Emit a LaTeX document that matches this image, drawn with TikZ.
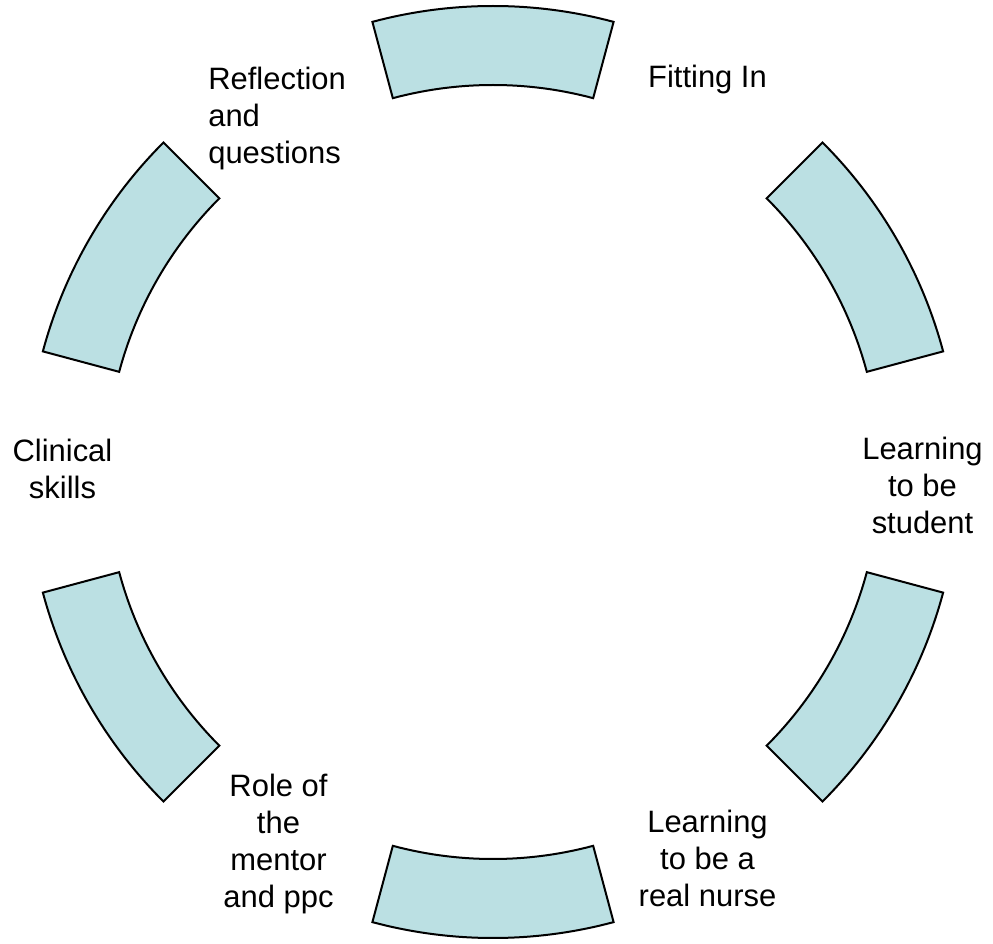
\documentclass[tikz,border=0pt]{standalone}
\usepackage{fontspec}
\setmainfont{Liberation Sans}
\definecolor{segfill}{RGB}{187,224,227}
\def\rin{7.74}
\def\rout{9.32}
\def\ringpiece[#1](#2:#3){\draw[#1] (#2:\rout) arc (#2:#3:\rout) -- (#3:\rin) arc (#3:#2:\rin) -- cycle;}

\begin{document}
\begin{tikzpicture}[ringtext/.style={align=center, inner sep=0pt, anchor=north, font=\fontsize{17.6}{21}\selectfont}]
		\useasboundingbox (-9.86,-9.44) rectangle (10.0,9.44);
		
		%%%%% SEGMENTS %%%%%
		\ringpiece[fill=segfill, line width=0.4mm](75:105);
		\ringpiece[fill=segfill, line width=0.4mm](15:45);
		\ringpiece[fill=segfill, line width=0.4mm](-45:-15);
		\ringpiece[fill=segfill, line width=0.4mm](-105:-75);
		\ringpiece[fill=segfill, line width=0.4mm](-165:-135);
		\ringpiece[fill=segfill, line width=0.4mm](135:165);
		
		%%%%% LABELS %%%%%
		\node[ringtext] (fitting) at (4.29, 8.14) {Fitting In};
		\node[ringtext] (student) at (8.59, 0.70) {Learning\\to be\\student};
		\node[ringtext] (nurse) at (4.29, -6.76) {Learning\\to be a\\real nurse};
		\node[ringtext] (mentor) at (-4.29, -6.04) {Role of\\the\\mentor\\and ppc};
		\node[ringtext] (clinical) at (-8.61, 0.66) {Clinical\\skills};
		\node[ringtext, align=left, anchor=north west] (reflection) at (-5.70, 8.10) {Reflection\\and\\questions};
	\end{tikzpicture}
\end{document}
